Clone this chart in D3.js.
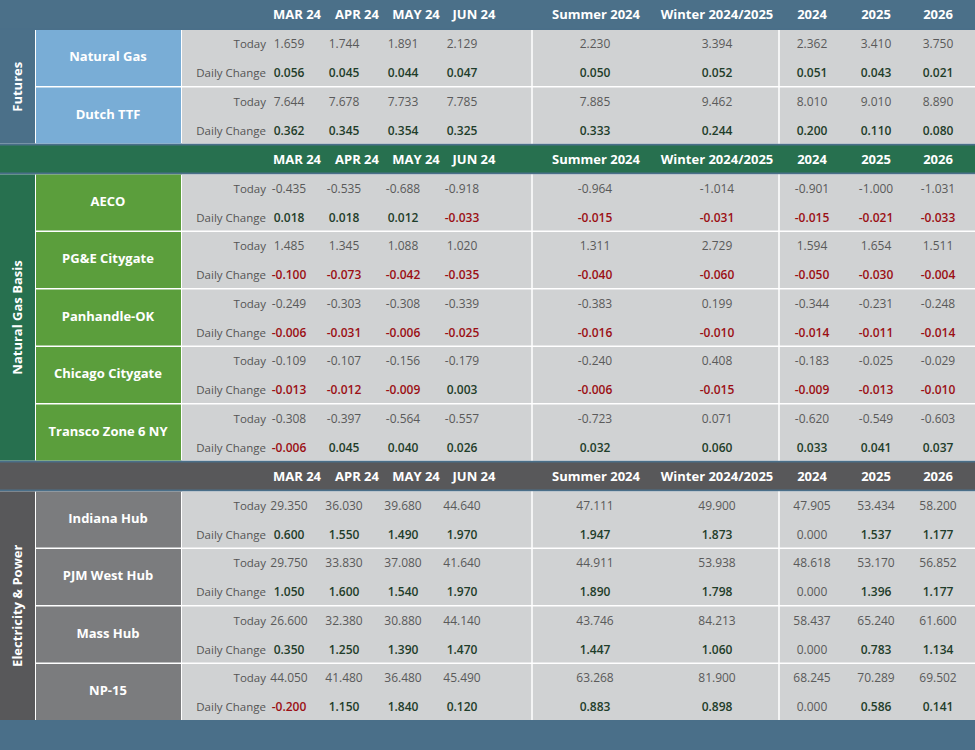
<!DOCTYPE HTML>
<html>
<head>
<meta charset="utf-8">
<script src="https://d3js.org/d3.v7.min.js"></script>
<style>body{margin:0;background:#4a6f89;} text{font-family:"Open Sans",sans-serif;}</style>
</head>
<body>
<script>
"use strict";

const columns = ["MAR 24", "APR 24", "MAY 24", "JUN 24", "Summer 2024", "Winter 2024/2025", "2024", "2025", "2026"];

const sections = [
  {name: "Futures", head: "#4b7089", label: "#4b7089", product: "#79add6",
   products: ["Natural Gas", "Dutch TTF"]},
  {name: "Natural Gas Basis", head: "#27704f", label: "#27704f", product: "#5b9e3c",
   products: ["AECO", "PG&E Citygate", "Panhandle-OK", "Chicago Citygate", "Transco Zone 6 NY"]},
  {name: "Electricity & Power", head: "#58585a", label: "#58585a", product: "#7b7c7e",
   products: ["Indiana Hub", "PJM West Hub", "Mass Hub", "NP-15"]}
];

const today = {
  "Natural Gas": [1.659, 1.744, 1.891, 2.129, 2.230, 3.394, 2.362, 3.410, 3.750],
  "Dutch TTF": [7.644, 7.678, 7.733, 7.785, 7.885, 9.462, 8.010, 9.010, 8.890],
  "AECO": [-0.435, -0.535, -0.688, -0.918, -0.964, -1.014, -0.901, -1.000, -1.031],
  "PG&E Citygate": [1.485, 1.345, 1.088, 1.020, 1.311, 2.729, 1.594, 1.654, 1.511],
  "Panhandle-OK": [-0.249, -0.303, -0.308, -0.339, -0.383, 0.199, -0.344, -0.231, -0.248],
  "Chicago Citygate": [-0.109, -0.107, -0.156, -0.179, -0.240, 0.408, -0.183, -0.025, -0.029],
  "Transco Zone 6 NY": [-0.308, -0.397, -0.564, -0.557, -0.723, 0.071, -0.620, -0.549, -0.603],
  "Indiana Hub": [29.350, 36.030, 39.680, 44.640, 47.111, 49.900, 47.905, 53.434, 58.200],
  "PJM West Hub": [29.750, 33.830, 37.080, 41.640, 44.911, 53.938, 48.618, 53.170, 56.852],
  "Mass Hub": [26.600, 32.380, 30.880, 44.140, 43.746, 84.213, 58.437, 65.240, 61.600],
  "NP-15": [44.050, 41.480, 36.480, 45.490, 63.268, 81.900, 68.245, 70.289, 69.502]
};

const change = {
  "Natural Gas": [0.056, 0.045, 0.044, 0.047, 0.050, 0.052, 0.051, 0.043, 0.021],
  "Dutch TTF": [0.362, 0.345, 0.354, 0.325, 0.333, 0.244, 0.200, 0.110, 0.080],
  "AECO": [0.018, 0.018, 0.012, -0.033, -0.015, -0.031, -0.015, -0.021, -0.033],
  "PG&E Citygate": [-0.100, -0.073, -0.042, -0.035, -0.040, -0.060, -0.050, -0.030, -0.004],
  "Panhandle-OK": [-0.006, -0.031, -0.006, -0.025, -0.016, -0.010, -0.014, -0.011, -0.014],
  "Chicago Citygate": [-0.013, -0.012, -0.009, 0.003, -0.006, -0.015, -0.009, -0.013, -0.010],
  "Transco Zone 6 NY": [-0.006, 0.045, 0.040, 0.026, 0.032, 0.060, 0.033, 0.041, 0.037],
  "Indiana Hub": [0.600, 1.550, 1.490, 1.970, 1.947, 1.873, 0.000, 1.537, 1.177],
  "PJM West Hub": [1.050, 1.600, 1.540, 1.970, 1.890, 1.798, 0.000, 1.396, 1.177],
  "Mass Hub": [0.350, 1.250, 1.390, 1.470, 1.447, 1.060, 0.000, 0.783, 1.134],
  "NP-15": [-0.200, 1.150, 1.840, 0.120, 0.883, 0.898, 0.000, 0.586, 0.141]
};

const W = 975, H = 750;
const svg = d3.select("body").append("svg").attr("width", W).attr("height", H);

const valueX = d3.scaleOrdinal().domain(columns).range([289, 344, 403, 462, 595, 717, 812, 876, 938]);
const headX = d3.scaleOrdinal().domain(columns).range([297, 357, 416, 474, 596, 717, 812, 876, 938]);
const fmt = (d) => d3.format(".3f")(d).replace("\u2212", "-");

const headH = 27, blockH = 56, gap = 1.5;
let y = 0;

sections.forEach((s, si) => {
  const hy = si === 0 ? 0 : y;
  const hh = si === 0 ? 28 : headH;
  svg.append("rect").attr("x", 0).attr("y", hy).attr("width", W).attr("height", hh).attr("fill", s.head);
  svg.append("g").selectAll("text").data(columns).join("text")
    .attr("x", (d) => headX(d)).attr("y", hy + 18.5).attr("text-anchor", "middle")
    .attr("fill", "#fff").attr("font-size", 13).attr("font-weight", 700).text((d) => d);
  y = hy + hh + 2;
  const top = y;
  const bottom = top + s.products.length * (blockH + gap) - gap;
  svg.append("rect").attr("x", 0).attr("y", top).attr("width", W).attr("height", bottom - top).attr("fill", "#fff");

  s.products.forEach((p) => {
    const g = svg.append("g").attr("transform", "translate(0," + y + ")");
    g.append("rect").attr("x", 36).attr("width", 145).attr("height", blockH).attr("fill", s.product);
    g.append("rect").attr("x", 182).attr("width", W - 182).attr("height", blockH).attr("fill", "#d0d2d3");
    g.append("text").attr("x", 108).attr("y", blockH / 2 + 3).attr("text-anchor", "middle")
      .attr("fill", "#fff").attr("font-size", 13).attr("font-weight", 700).text(p);
    [["Today", 18], ["Daily Change", 47]].forEach(([lab, ty]) => {
      g.append("text").attr("x", 266).attr("y", ty).attr("text-anchor", "end")
        .attr("fill", "#555").attr("font-size", 11.5).text(lab);
    });
    g.append("g").selectAll("text").data(today[p]).join("text")
      .attr("x", (d, i) => valueX(columns[i])).attr("y", 18).attr("text-anchor", "middle")
      .attr("fill", "#5a5a5a").attr("font-size", 12).text((d) => fmt(d));
    g.append("g").selectAll("text").data(change[p]).join("text")
      .attr("x", (d, i) => valueX(columns[i])).attr("y", 47).attr("text-anchor", "middle")
      .attr("fill", (d) => d > 0 ? "#1f3d2a" : d < 0 ? "#9b0f14" : "#5a5a5a")
      .attr("font-weight", (d) => d === 0 ? 400 : 600)
      .attr("font-size", 12).text((d) => fmt(d));
    y += blockH + gap;
  });
  svg.append("rect").attr("x", 0).attr("y", top).attr("width", 35).attr("height", bottom - top).attr("fill", s.label);
  svg.append("text").attr("transform", "translate(22," + (top + bottom) / 2 + ") rotate(-90)")
    .attr("text-anchor", "middle").attr("fill", "#fff").attr("font-size", 13).attr("font-weight", 700).text(s.name);
  [532, 779].forEach((x) => svg.append("line").attr("x1", x).attr("x2", x).attr("y1", top).attr("y2", bottom)
    .attr("stroke", "#fff").attr("stroke-width", 1.5));
  y = bottom + 2;
});
</script>
</body>
</html>
